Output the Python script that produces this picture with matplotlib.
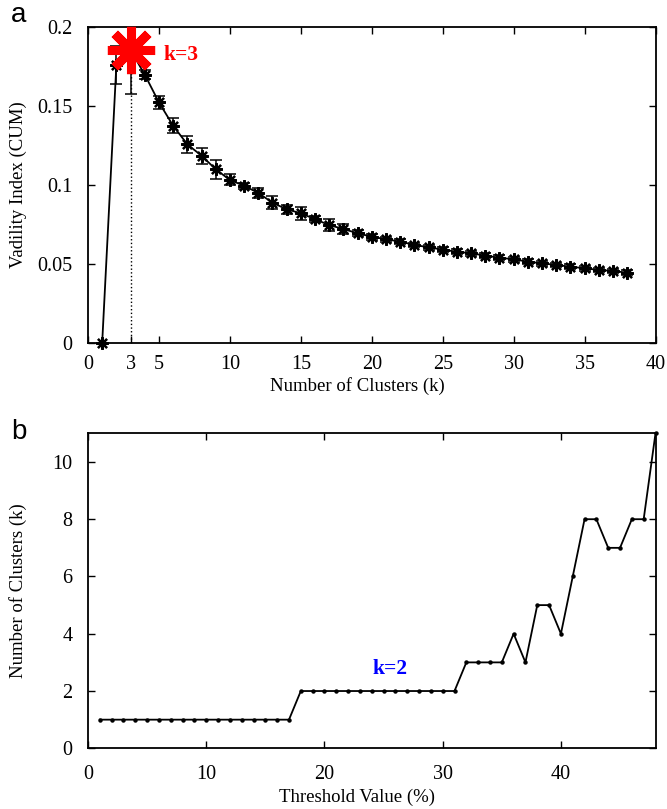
import matplotlib
matplotlib.use("Agg")
import matplotlib.pyplot as plt
import numpy as np

plt.rcParams['font.family'] = ['Liberation Serif', 'DejaVu Serif']
plt.rcParams['mathtext.fontset'] = 'stix'

# Panel a: validity index (CUM) vs number of clusters
k_values = list(range(1, 39))
cum_index = [0.0, 0.176, 0.1856, 0.170, 0.1524, 0.1376, 0.1258, 0.1186, 0.1100,
             0.1032, 0.0995, 0.0950, 0.0888, 0.0846, 0.0821, 0.0783, 0.0746,
             0.0721, 0.0694, 0.0672, 0.0656, 0.0641, 0.0620, 0.0605, 0.0590,
             0.0577, 0.0567, 0.0552, 0.0539, 0.0529, 0.0514, 0.0503, 0.0493,
             0.0482, 0.0472, 0.0461, 0.0455, 0.0444]
cum_error = [0.0, 0.012, 0.028, 0.003, 0.0042, 0.0046, 0.0055, 0.005, 0.006,
             0.0035, 0.002, 0.003, 0.004, 0.003, 0.004, 0.002, 0.004, 0.003,
             0.002, 0.002, 0.0015, 0.0015, 0.0015, 0.0015, 0.0015, 0.0015,
             0.0015, 0.0015, 0.0015, 0.0015, 0.0015, 0.0015, 0.0015, 0.0015,
             0.0015, 0.0015, 0.0015, 0.0015]
best_k = 3
best_value = 0.1856
a_xticks = [0, 3, 5, 10, 15, 20, 25, 30, 35, 40]
a_yticks = [0, 0.05, 0.1, 0.15, 0.2]
a_yticklabels = ["0", "0.05", "0.1", "0.15", "0.2"]

# Panel b: number of clusters vs threshold value
threshold = list(range(1, 49))
n_clusters = [1] * 17 + [2] * 14 + [3, 3, 3, 3, 4, 3, 5, 5, 4, 6, 8, 8, 7, 7, 8, 8, 11]
b_xticks = [0, 10, 20, 30, 40]
b_yticks = [0, 2, 4, 6, 8, 10]

W, H = 667, 809
fig = plt.figure(figsize=(W / 100, H / 100), dpi=100)

def box(l, t, r, b):
    return [l / W, 1 - b / H, (r - l) / W, (b - t) / H]

AX_L, AX_R = 88, 655.5
ax1 = fig.add_axes(box(AX_L, 27.3, AX_R, 342.7))
ax2 = fig.add_axes(box(AX_L, 433.3, AX_R, 748.3))
ax_w = AX_R - AX_L

TICK_FS = 14.5
LABEL_FS = 13.5
tick_kw = dict(direction='in', top=True, right=True, length=5, width=1,
               labelsize=TICK_FS)

# ---- panel a ----
ax1.plot([best_k, best_k], [0, best_value], color='black', ls=':', lw=1)
ax1.errorbar(k_values, cum_index, yerr=cum_error, color='black', lw=0,
             elinewidth=1.1, capsize=4.5, capthick=1.1, zorder=3)
ax1.plot(k_values, cum_index, color='black', lw=1.3, marker=(8, 2, 0),
         markersize=9, markeredgewidth=1.6, clip_on=False, zorder=4)
ax1.plot([best_k], [best_value], marker=(8, 2, 0), markersize=34,
         markeredgewidth=6.5, color=(1, 0, 0), zorder=5, clip_on=False)
ax1.text(5.35, 0.1825, "k=3", color=(1, 0, 0), fontsize=15.5,
         fontweight='bold', ha='left', va='center')
ax1.set_xlim(0, 40)
ax1.set_ylim(0, 0.2)
ax1.set_xticks(a_xticks)
ax1.set_yticks(a_yticks)
ax1.set_yticklabels(a_yticklabels)
ax1.tick_params(axis='both', **tick_kw)
ax1.tick_params(axis='x', pad=9)
ax1.tick_params(axis='y', pad=11)
ax1.set_xlabel("Number of Clusters (k)", fontsize=LABEL_FS)
ax1.set_ylabel("Vadility Index (CUM)", fontsize=LABEL_FS)
ax1.xaxis.set_label_coords((357 - AX_L) / ax_w, -0.108)
ax1.yaxis.set_label_coords(-(AX_L - 27) / ax_w, 0.5)
for s in ax1.spines.values():
    s.set_linewidth(1.3)

# ---- panel b ----
ax2.plot(threshold, n_clusters, color='black', lw=1.3, marker='o',
         markersize=2.2, clip_on=False, zorder=3)
ax2.text(24.1, 2.76, "k=2", color=(0, 0, 1), fontsize=15.5,
         fontweight='bold', ha='left', va='center')
ax2.set_xlim(0, 48)
ax2.set_ylim(0, 11)
ax2.set_xticks(b_xticks)
ax2.set_yticks(b_yticks)
ax2.tick_params(axis='both', **tick_kw)
ax2.tick_params(axis='x', pad=12)
ax2.tick_params(axis='y', pad=11)
ax2.set_xlabel("Threshold Value (%)", fontsize=LABEL_FS)
ax2.set_ylabel("Number of Clusters (k)", fontsize=LABEL_FS)
ax2.xaxis.set_label_coords((357 - AX_L) / ax_w, -0.127)
ax2.yaxis.set_label_coords(-(AX_L - 27) / ax_w, 0.5)
for s in ax2.spines.values():
    s.set_linewidth(1.3)

fig.text(19 / W, 1 - 15 / H, "a", fontsize=20, ha='center', va='center',
         family=['Liberation Sans', 'DejaVu Sans'])
fig.text(19 / W, 1 - 432 / H, "b", fontsize=20, ha='center', va='center',
         family=['Liberation Sans', 'DejaVu Sans'])

fig.savefig("out.png", dpi=100)
